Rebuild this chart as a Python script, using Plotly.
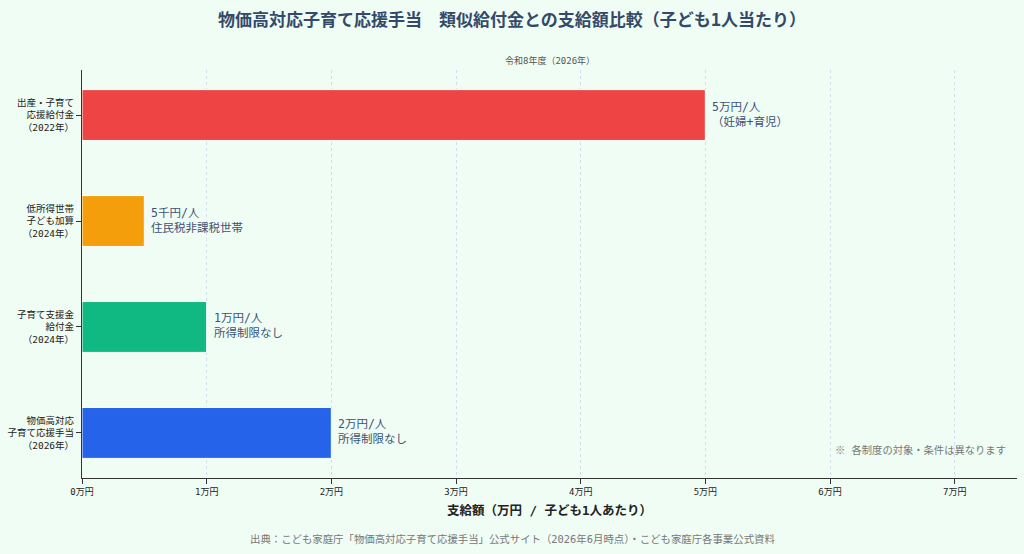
import plotly.graph_objects as go

# data (bottom -> top)
programs = [
    "物価高対応<br>子育て応援手当<br>（2026年）",
    "子育て支援金<br>給付金<br>（2024年）",
    "低所得世帯<br>子ども加算<br>（2024年）",
    "出産・子育て<br>応援給付金<br>（2022年）",
]
amounts = [2, 1, 0.5, 5]  # 万円 / 子ども1人
notes = [
    "2万円/人<br>所得制限なし",
    "1万円/人<br>所得制限なし",
    "5千円/人<br>住民税非課税世帯",
    "5万円/人<br>（妊婦+育児）",
]
colors = ["#2563EB", "#10B981", "#F59E0B", "#EF4444"]
xticks = [0, 1, 2, 3, 4, 5, 6, 7]
xticklabels = [f"{v}万円" for v in xticks]

FONT = "DejaVu Sans Mono, Noto Sans CJK JP, monospace"

fig = go.Figure()
fig.add_trace(go.Bar(
    y=list(range(len(programs))),
    x=amounts,
    orientation="h",
    width=0.48,
    marker=dict(color=colors, line=dict(color="white", width=1)),
    hoverinfo="skip",
))

for i, (v, t) in enumerate(zip(amounts, notes)):
    fig.add_annotation(x=v, y=i, text=t, showarrow=False, xanchor="left",
                       align="left", xshift=5, yshift=1,
                       font=dict(size=11.5, color="#3d5278", family=FONT))

fig.add_annotation(x=0.5, y=1.0, xref="paper", yref="paper", yanchor="bottom",
                   yshift=2, text="令和8年度（2026年）", showarrow=False,
                   font=dict(size=9, color="#555555", family=FONT))
fig.add_annotation(x=0.99, y=0.05, xref="paper", yref="paper",
                   xanchor="right", text="※ 各制度の対象・条件は異なります",
                   showarrow=False, font=dict(size=10.3, color="#777777", family=FONT))
# source line is centred on the page, not on the plot area
fig.add_annotation(x=0.46, y=-0.13, xref="paper", yref="paper",
                   yanchor="top",
                   text="出典：こども家庭庁「物価高対応子育て応援手当」公式サイト（2026年6月時点）・こども家庭庁各事業公式資料",
                   showarrow=False, font=dict(size=10.4, color="#777777", family=FONT))

fig.update_layout(
    width=1024, height=554,
    paper_bgcolor="#F0FDF4", plot_bgcolor="#F0FDF4",
    font=dict(family=FONT, color="#222222"),
    title=dict(text="<b>物価高対応子育て応援手当　類似給付金との支給額比較（子ども1人当たり）</b>",
               x=0.5, xanchor="center", y=0.975,
               font=dict(size=17, color="#334a6b", family=FONT)),
    margin=dict(l=82, r=7, t=70, b=76),
    showlegend=False,
    xaxis=dict(
        range=[0, 7.5], tickvals=xticks, ticktext=xticklabels,
        automargin=False,
        showgrid=True, gridcolor="#d3dee9", griddash="3px,3px", gridwidth=1,
        zeroline=False, showline=True, linecolor="#333333", linewidth=1,
        ticks="outside", ticklen=5, tickcolor="#333333",
        tickfont=dict(size=9, color="#222222"),
        title=dict(text="<b>支給額（万円 / 子ども1人あたり）</b>",
                   font=dict(size=12.5, color="#222222"), standoff=10),
    ),
    yaxis=dict(
        range=[-0.425, 3.425], tickvals=list(range(len(programs))),
        automargin=False,
        ticktext=programs, showgrid=False, zeroline=False,
        showline=True, linecolor="#333333", linewidth=1,
        ticks="outside", ticklen=5, tickcolor="#333333",
        tickfont=dict(size=9.5, color="#222222"),
    ),
)

# drop the default page margin so the chart fills the window
fig.write_html("out.html", config={"displayModeBar": False},
               post_script="document.body.style.margin='0';")
